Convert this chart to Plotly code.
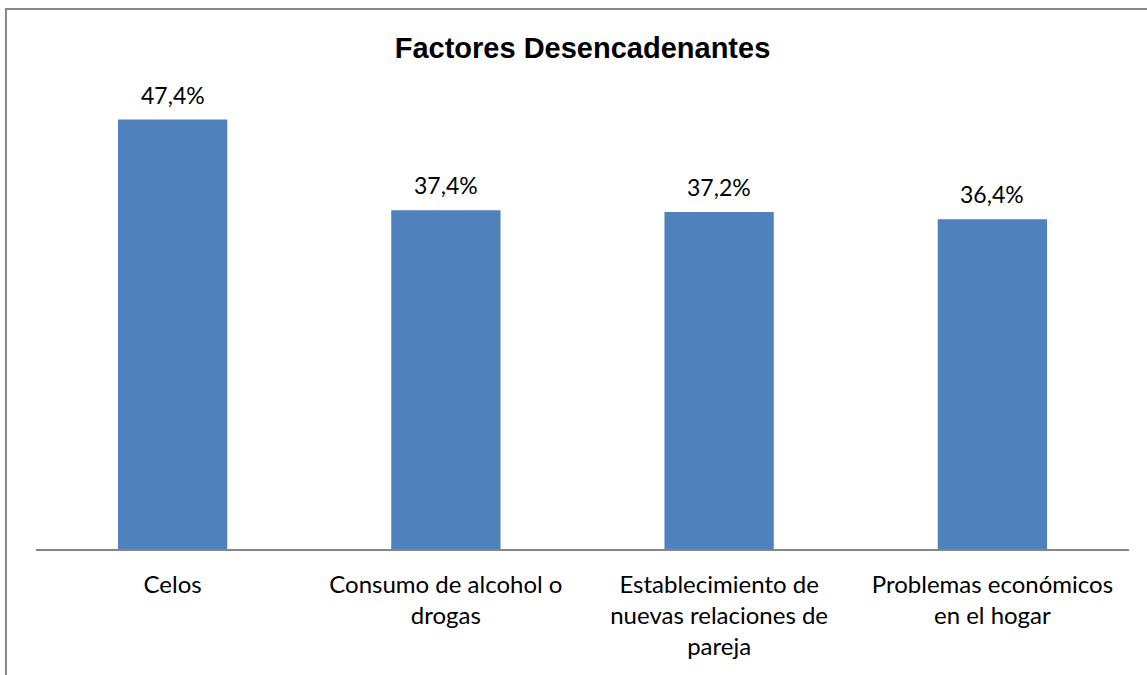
import plotly.graph_objects as go

CATEGORIES = [
    "Celos",
    "Consumo de alcohol o<br>drogas",
    "Establecimiento de<br>nuevas relaciones de<br>pareja",
    "Problemas económicos<br>en el hogar",
]
VALUES = [47.4, 37.4, 37.2, 36.4]
VALUE_LABELS = ["47,4%", "37,4%", "37,2%", "36,4%"]

BAR_COLOR = "#4F81BD"
TICK_FONT = dict(family="Lato, 'Open Sans', sans-serif", size=24, color="#000000")
VALUE_FONT = dict(family="Lato, 'Open Sans', sans-serif", size=23, color="#000000")

fig = go.Figure()
fig.add_trace(go.Bar(
    x=CATEGORIES, y=VALUES,
    marker=dict(color=BAR_COLOR, line_width=0),
    width=0.4,
    hoverinfo="skip",
))

# value labels above the bars
for cat, val, lab in zip(CATEGORIES, VALUES, VALUE_LABELS):
    fig.add_annotation(
        x=cat, y=val, text=lab, showarrow=False,
        yanchor="bottom", yshift=9, font=VALUE_FONT,
    )

fig.update_layout(
    width=1147, height=675,
    margin=dict(l=36, r=18, t=96, b=126),
    paper_bgcolor="white", plot_bgcolor="white",
    showlegend=False,
    title=dict(
        text="<b>Factores Desencadenantes</b>",
        font=dict(family="Liberation Sans, Arial, sans-serif", size=29, color="#000000"),
        x=0.5, xref="paper", xanchor="center",
        y=1 - 48 / 675, yref="container", yanchor="middle",
    ),
)

fig.update_xaxes(
    showline=True, linecolor="#868686", linewidth=2,
    ticks="outside", ticklen=13, tickcolor="rgba(0,0,0,0)",
    tickfont=TICK_FONT, showgrid=False,
)
fig.update_yaxes(range=[0, 50], visible=False, showgrid=False)

# outer chart border (cropped on right and bottom in the original)
fig.add_shape(
    type="rect", xref="paper", yref="paper",
    x0=-0.0275, x1=1.05, y0=-0.35, y1=1.192,
    line=dict(color="#868686", width=2), fillcolor="rgba(0,0,0,0)",
    layer="below",
)

fig.write_html(
    "out.html",
    config={"displayModeBar": False},
    post_script="document.body.style.margin='0';",
)
